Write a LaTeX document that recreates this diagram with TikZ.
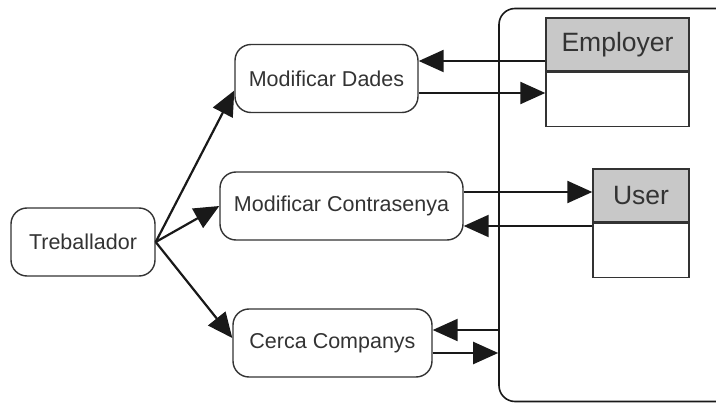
\documentclass[tikz,border=0pt]{standalone}
\usepackage{fontspec}
\setmainfont{Liberation Sans}
\usetikzlibrary{arrows.meta}
\definecolor{boxline}{HTML}{333333}
\definecolor{hdrfill}{HTML}{C8C8C8}
\definecolor{txt}{HTML}{333333}
\tikzset{
  uc/.style={draw=boxline, line width=1.4pt, rounded corners=16pt, inner sep=0pt,
    text=txt, font=\fontsize{21.5}{25}\selectfont, minimum height=68pt},
  hdr/.style={draw=boxline, line width=1.4pt, fill=hdrfill, inner sep=0pt,
    text=txt, font=\fontsize{26.5}{30}\selectfont, minimum height=53pt},
  body/.style={draw=boxline, line width=1.4pt, fill=white, inner sep=0pt, minimum height=54pt},
  arr/.style={line width=2.2pt, draw=black!90, -{Triangle[length=25pt,width=22pt]}},
  cont/.style={draw=black!90, line width=1.6pt, rounded corners=16pt, inner sep=0pt}
}
\begin{document}
\begin{tikzpicture}[x=1pt,y=-1pt]
\useasboundingbox (0,0) rectangle (716,404);
\clip (0,0) rectangle (716,404);
\fill[white] (0,0) rectangle (716,404);
% container
\node[cont, minimum width=250pt, minimum height=393pt] (cont) at (624,205) {};
% use cases
\node[uc, minimum width=144pt] (trab) at (83,242) {Treballador};
\node[uc, minimum width=183pt] (dades) at (326.5,78.5) {Modificar Dades};
\node[uc, minimum width=243pt] (contr) at (341.5,206) {Modificar Contrasenya};
\node[uc, minimum width=199pt] (cerca) at (332.5,343) {Cerca Companys};
% classes
\node[hdr, minimum width=143pt] (emp) at (617.5,44.5) {Employer};
\node[body, minimum width=143pt, anchor=north] (empb) at (emp.south) {};
\node[hdr, minimum width=96pt] (user) at (641,195.5) {User};
\node[body, minimum width=96pt, anchor=north] (userb) at (user.south) {};
% arrows from Treballador
\draw[arr] (trab.east) -- ([yshift=-12pt]dades.west);
\draw[arr] (trab.east) -- (contr.west);
\draw[arr] (trab.east) -- ([yshift=5pt]cerca.west);
% Employer <-> Modificar Dades
\draw[arr] (emp.west |- 0,61) -- (dades.east |- 0,61);
\draw[arr] (dades.east |- 0,93) -- (empb.west |- 0,93);
% User <-> Modificar Contrasenya
\draw[arr] (contr.east |- 0,192) -- (user.west |- 0,192);
\draw[arr] (userb.west |- 0,226) -- (contr.east |- 0,226);
% container <-> Cerca Companys
\draw[arr] (cont.west |- 0,330) -- (cerca.east |- 0,330);
\draw[arr] (cerca.east |- 0,353) -- (cont.west |- 0,353);
\end{tikzpicture}
\end{document}
